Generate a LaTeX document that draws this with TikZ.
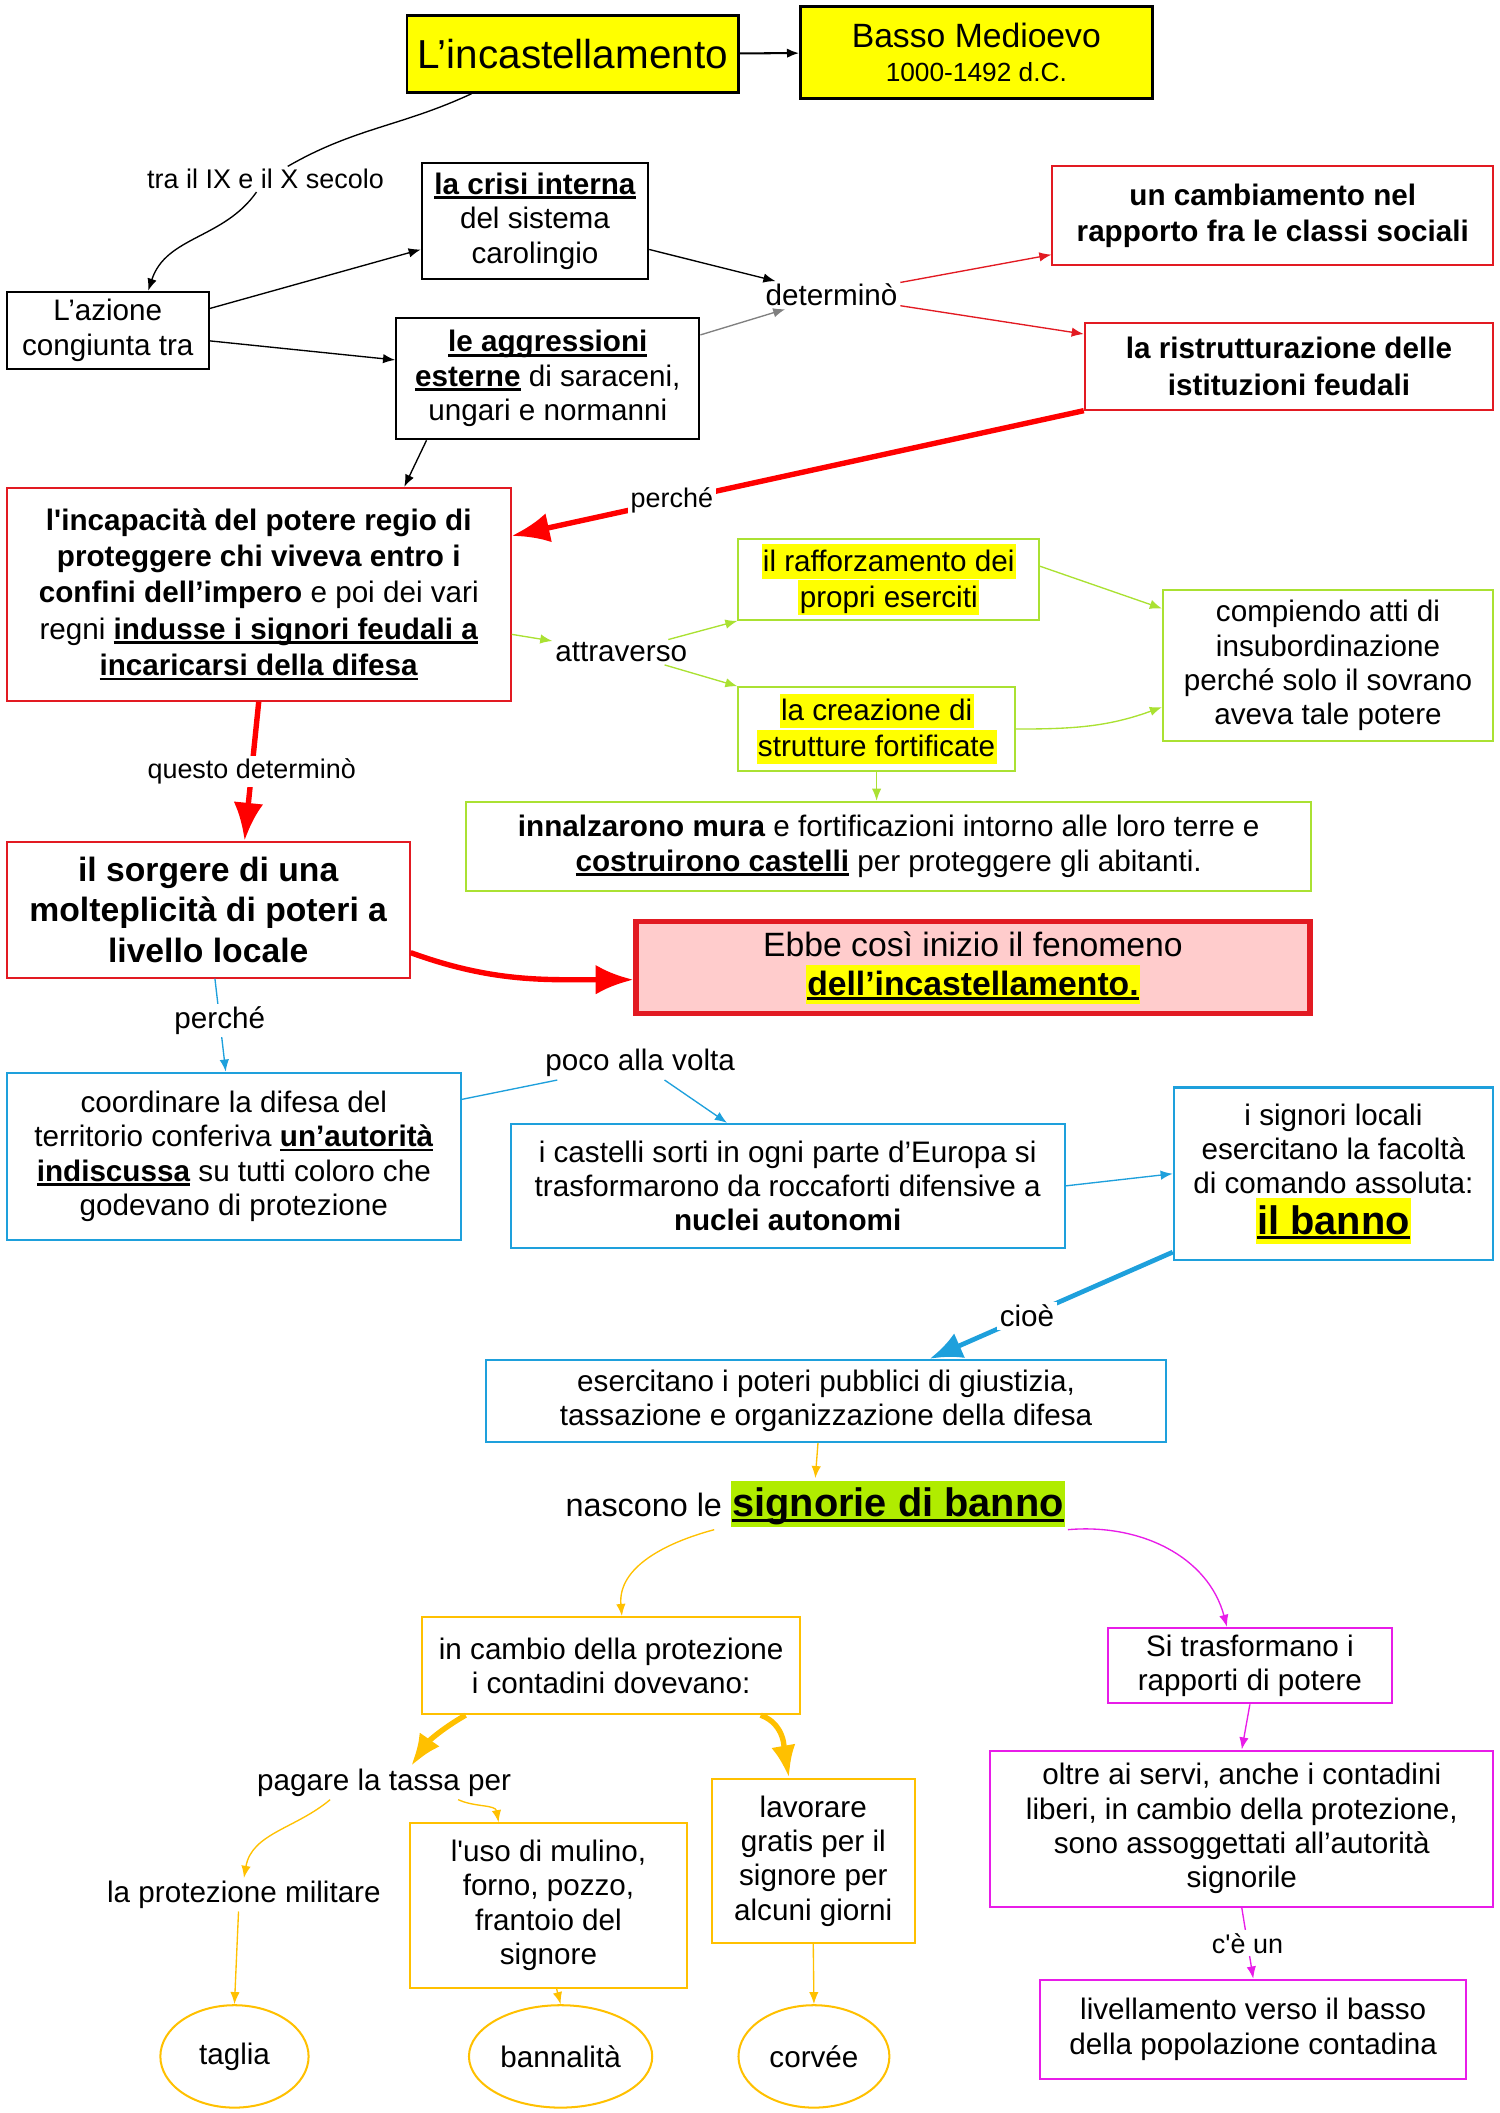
\documentclass[tikz,border=0pt]{standalone}
\usepackage{fontspec}
\setmainfont{Liberation Sans}[Ligatures=TeXOff]
\usetikzlibrary{arrows.meta,shapes.geometric}

\definecolor{rossobox}{RGB}{226,26,34}
\definecolor{rossovivo}{RGB}{255,0,0}
\definecolor{verde}{RGB}{170,225,50}
\definecolor{blu}{RGB}{30,160,220}
\definecolor{arancio}{RGB}{255,192,0}
\definecolor{viola}{RGB}{232,28,232}
\definecolor{rosa}{RGB}{255,204,204}
\definecolor{giallo}{RGB}{255,255,0}
\definecolor{verdeacido}{RGB}{176,236,0}

\newcommand\hly[1]{{\fboxsep=1pt\colorbox{giallo}{\vphantom{Ég}#1}}}
\newcommand\hlg[1]{{\fboxsep=1pt\colorbox{verdeacido}{\vphantom{Ég}#1}}}
\newcommand\sott[1]{\setbox0=\hbox{#1}\rlap{\rule[-3.5pt]{\wd0}{2pt}}\box0\relax}

\begin{document}
\begin{tikzpicture}[x=1pt,y=-1pt]
    \tikzstyle{every node} = [font=\fontsize{22}{25.5}\selectfont, align=center, inner sep=2pt];
    \tikzstyle{etich} = [fill=white, font=\fontsize{20}{23}\selectfont];
    \tikzstyle{nbox} = [draw=black, line width=1.5pt];
    \tikzstyle{rbox} = [draw=rossobox, line width=1.5pt];
    \tikzstyle{gbox} = [draw=verde, line width=1.5pt];
    \tikzstyle{bbox} = [draw=blu, line width=1.5pt];
    \tikzstyle{obox} = [draw=arancio, line width=1.5pt];
    \tikzstyle{mbox} = [draw=viola, line width=1.5pt];
    \tikzstyle{ovale} = [ellipse, draw=arancio, line width=1.5pt];
    \tikzstyle{freccia} = [line width=1pt, -{Latex[length=9pt,width=7pt]}];
    \tikzstyle{grossa} = [line width=4pt, -{Latex[length=28pt,width=22pt]}];
    \useasboundingbox (0,0) rectangle (1113,1568);

    \node[nbox, fill=giallo, line width=2pt, minimum width=246, minimum height=57, font=\fontsize{30}{34}\selectfont] (incast) at (425,40) {L’incastellamento};
    \node[nbox, fill=giallo, line width=2pt, minimum width=261, minimum height=68] (basso) at (724.5,39) {{\fontsize{25}{27}\selectfont Basso Medioevo}\\{\fontsize{19.5}{24}\selectfont 1000-1492 d.C.}};
    \node[etich] (tra) at (197,133) {tra il IX e il X secolo};
    \node[nbox, minimum width=150, minimum height=57] (azione) at (80,245) {L’azione\\congiunta tra};
    \node[nbox, minimum width=168, minimum height=86] (crisi) at (397,164) {\sott{\textbf{la crisi interna}}\\del sistema\\carolingio};
    \node[nbox, minimum width=225, minimum height=90] (aggr) at (406.5,281) {\sott{\textbf{le aggressioni}}\\\sott{\textbf{esterne}} di saraceni,\\ungari e normanni};
    \node[etich, font=\fontsize{22}{25}\selectfont] (det) at (617,219) {determinò};
    \node[rbox, minimum width=327, minimum height=74, font=\bfseries\fontsize{22}{27}\selectfont] (camb) at (944.5,160) {un cambiamento nel\\rapporto fra le classi sociali};
    \node[rbox, minimum width=303, minimum height=64, font=\bfseries\fontsize{22}{27}\selectfont] (rist) at (956.5,272) {la ristrutturazione delle\\istituzioni feudali};
    \node[rbox, minimum width=374, minimum height=158, font=\fontsize{22}{27}\selectfont] (incap) at (192,441) {\textbf{l'incapacità del potere regio di}\\\textbf{proteggere chi viveva entro i}\\\textbf{confini dell’impero} e poi dei vari\\regni \sott{\textbf{indusse i signori feudali a}}\\\sott{\textbf{incaricarsi della difesa}}};
    \node[etich, font=\fontsize{22}{25}\selectfont] (attr) at (461,484) {attraverso};
    \node[gbox, minimum width=223, minimum height=60] (raff) at (659.5,430) {\hly{il rafforzamento dei}\\\hly{propri eserciti}};
    \node[gbox, minimum width=205, minimum height=62] (crea) at (650.5,541) {\hly{la creazione di}\\\hly{strutture fortificate}};
    \node[gbox, minimum width=245, minimum height=112] (comp) at (985.5,494) {compiendo atti di\\insubordinazione\\perché solo il sovrano\\aveva tale potere};
    \node[gbox, minimum width=627, minimum height=66] (innal) at (659.5,628) {\textbf{innalzarono mura} e fortificazioni intorno alle loro terre e\\\sott{\textbf{costruirono castelli}} per proteggere gli abitanti.};
    \node[rbox, minimum width=299, minimum height=101, font=\bfseries\fontsize{25}{30}\selectfont] (sorg) at (154.5,675) {il sorgere di una\\molteplicità di poteri a\\livello locale};
    \node[rbox, fill=rosa, line width=4pt, minimum width=500, minimum height=68, font=\fontsize{25}{29}\selectfont] (ebbe) at (722,718) {Ebbe così inizio il fenomeno\\\hly{\sott{\textbf{dell’incastellamento.}}}};
    \node[bbox, minimum width=337, minimum height=124] (coord) at (173.5,858) {coordinare la difesa del\\territorio conferiva \sott{\textbf{un’autorità}}\\\sott{\textbf{indiscussa}} su tutti coloro che\\godevano di protezione};
    \node[etich, font=\fontsize{22}{25}\selectfont] (poco) at (475,789) {poco alla volta};
    \node[bbox, minimum width=411, minimum height=92] (cast) at (584.5,880) {i castelli sorti in ogni parte d’Europa si\\trasformarono da roccaforti difensive a\\\textbf{nuclei autonomi}};
    \node[bbox, minimum width=237, minimum height=128] (sign) at (989.5,871) {i signori locali\\esercitano la facoltà\\di comando assoluta:\\[2pt]{\fontsize{29.5}{32}\selectfont\hly{\sott{\textbf{il banno}}}}};
    \node[bbox, minimum width=504, minimum height=61] (eserc) at (613,1039.5) {esercitano i poteri pubblici di giustizia,\\tassazione e organizzazione della difesa};
    \node[font=\fontsize{24}{28}\selectfont] (nasc) at (605,1116) {nascono le {\fontsize{29.5}{32}\selectfont\hlg{\sott{\textbf{signorie di banno}}}}};
    \node[obox, minimum width=281, minimum height=72] (cambio) at (453.5,1236) {in cambio della protezione\\i contadini dovevano:};
    \node[mbox, minimum width=211, minimum height=56] (trasf) at (927.5,1236) {Si trasformano i\\rapporti di potere};
    \node[mbox, minimum width=373, minimum height=116] (oltre) at (921.5,1357) {oltre ai servi, anche i contadini\\liberi, in cambio della protezione,\\sono assoggettati all’autorità\\signorile};
    \node[mbox, minimum width=316, minimum height=74] (livel) at (930,1506) {livellamento verso il basso\\della popolazione contadina};
    \node (pagare) at (285,1323) {pagare la tassa per};
    \node (protm) at (181,1406) {la protezione militare};
    \node[obox, minimum width=206, minimum height=122] (uso) at (407,1414) {l'uso di mulino,\\forno, pozzo,\\frantoio del\\signore};
    \node[obox, minimum width=151, minimum height=122] (lavor) at (603.5,1381) {lavorare\\gratis per il\\signore per\\alcuni giorni};
    \node[ovale, minimum width=110, minimum height=76] (taglia) at (174,1526) {taglia};
    \node[ovale, minimum width=136, minimum height=76] (bann) at (416,1526) {bannalità};
    \node[ovale, minimum width=112, minimum height=76] (corvee) at (604,1526) {corvée};

    \draw[freccia, line width=1.5pt] (incast) -- (basso);
    \draw[line width=1pt] ([xshift=-75pt]incast.south) to[out=205,in=30] (tra);
    \draw[freccia] (tra) to[out=235,in=72] ([xshift=30pt]azione.north);
    \draw[freccia] (azione.12) -- (crisi.194);
    \draw[freccia] (azione.354) -- (aggr.173);
    \draw[freccia] (crisi.346) -- (det);
    \draw[freccia, draw=gray] (aggr.16) -- (det);
    \draw[freccia, draw=rossobox] (det) -- (camb.190);
    \draw[freccia, draw=rossobox] (det) -- (rist.171);
    \draw[grossa, draw=rossovivo] (rist.south west) -- (incap.13) node[etich, pos=0.72] (perche) {perché};
    \draw[freccia] ([xshift=-90pt]aggr.south) -- ([xshift=108pt]incap.north);
    \draw[freccia, draw=verde] (incap.351) -- (attr);
    \draw[freccia, draw=verde] (attr) -- (raff.south west);
    \draw[freccia, draw=verde] (attr) -- (crea.north west);
    \draw[freccia, draw=verde] (raff.5) -- (comp.161);
    \draw[freccia, draw=verde] (crea.east) to[out=0,in=200] (comp.194);
    \draw[freccia, draw=verde] (crea.south) -- (crea.south |- innal.north);
    \draw[grossa, draw=rossovivo] (incap.south) -- ([xshift=27pt]sorg.north) node[etich, pos=0.5] (qdet) {questo determinò};
    \draw[grossa, draw=rossovivo] (sorg.348) to[out=-20,in=180] ([yshift=-9pt]ebbe.west);
    \draw[freccia, draw=blu] ([xshift=5pt]sorg.south) -- ([xshift=-6pt]coord.north) node[etich, font=\fontsize{22}{25}\selectfont, pos=0.45] (perche2) {perché};
    \draw[line width=1pt, draw=blu] (coord.14) -- (poco);
    \draw[freccia, draw=blu] (poco) -- ([xshift=-45pt]cast.north);
    \draw[freccia, draw=blu] (cast.east) -- (sign.west);
    \draw[grossa, line width=3.5pt, draw=blu, -{Latex[length=24pt,width=20pt]}] (sign.206) -- ([xshift=77pt]eserc.north) node[etich, font=\fontsize{22}{25}\selectfont, pos=0.6] (cioe) {cioè};
    \draw[freccia, draw=arancio] ([xshift=-6pt]eserc.south) -- (nasc.north);
    \draw[freccia, draw=arancio] ([xshift=-75pt]nasc.south) to[out=195,in=95] ([xshift=8pt]cambio.north);
    \draw[freccia, draw=viola] (nasc.south east) to[out=5,in=105] ([xshift=-17pt]trasf.north);
    \draw[grossa, draw=arancio, -{Latex[length=24pt,width=18pt]}] ([xshift=-108pt]cambio.south) to[out=210,in=55] ([xshift=20pt]pagare.north);
    \draw[grossa, draw=arancio, -{Latex[length=24pt,width=18pt]}] ([xshift=111pt]cambio.south) to[out=-20,in=100] ([xshift=-18pt]lavor.north);
    \draw[freccia, draw=arancio] ([xshift=-40pt]pagare.south) to[out=220,in=80] (protm.north);
    \draw[freccia, draw=arancio] ([xshift=55pt]pagare.south) to[out=-25,in=100] ([xshift=-37pt]uso.north);
    \draw[freccia, draw=arancio] ([xshift=-4pt]protm.south) -- (taglia.north);
    \draw[freccia, draw=arancio] ([xshift=6pt]uso.south) -- (bann.north);
    \draw[freccia, draw=arancio] (lavor.south) -- (corvee.north);
    \draw[freccia, draw=viola] (trasf.south) -- (oltre.north);
    \draw[freccia, draw=viola] (oltre.south) -- (livel.north) node[etich, pos=0.5] (ceun) {c'è un};
\end{tikzpicture}
\end{document}
